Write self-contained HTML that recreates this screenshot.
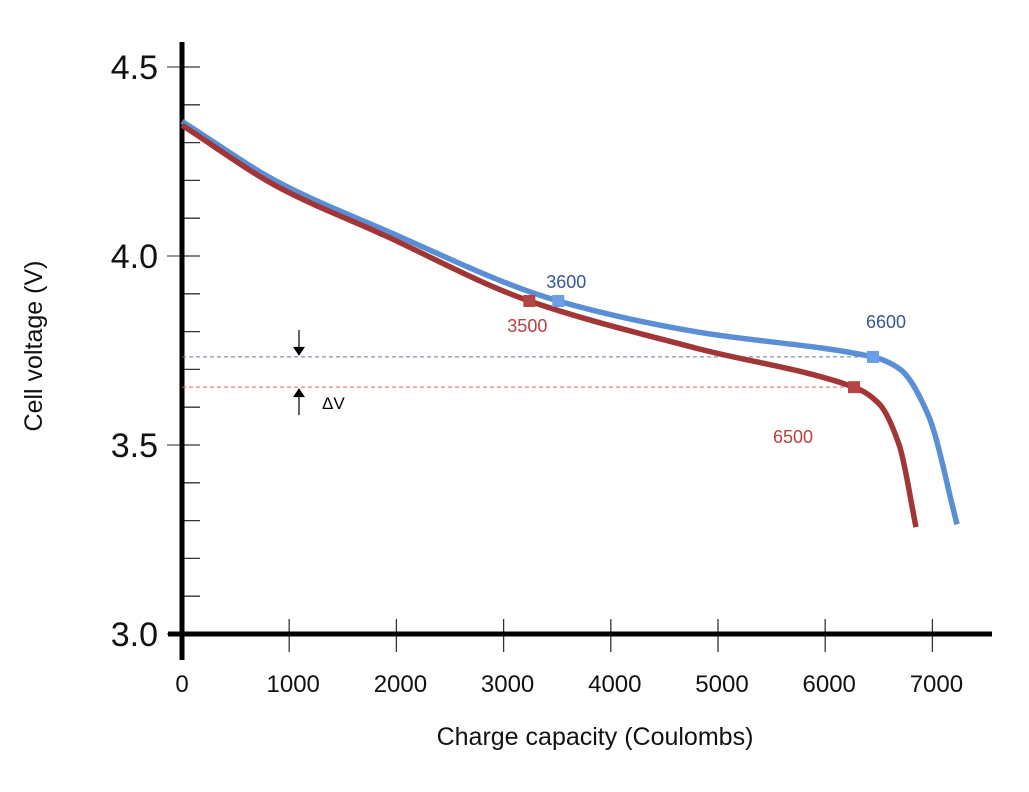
<!DOCTYPE html>
<html><head><meta charset="utf-8"><style>
body{margin:0;background:#fff;}
svg{display:block;font-family:"Liberation Sans",sans-serif;}
</style></head><body>
<svg id="c" width="1029" height="792"></svg>
<script>
const xTicks=[0,1000,2000,3000,4000,5000,6000,7000];
const yTicks=[3.0,3.5,4.0,4.5];
const blueCap=[0,914,1847,3510,4785,6446,6700,6960,7230];
const blueV=[4.356,4.193,4.074,3.881,3.80,3.733,3.70,3.58,3.29];
const redCap=[0,914,1847,3240,4785,6269,6500,6690,6847];
const redV=[4.346,4.18,4.06,3.881,3.757,3.653,3.61,3.50,3.283];
const blueMarkCap=[3510,6446];
const blueMarkV=[3.881,3.733];
const blueMarkLbl=["3600","6600"];
const redMarkCap=[3240,6269];
const redMarkV=[3.881,3.653];
const redMarkLbl=["3500","6500"];

const sx=c=>182+c*0.1072;
const sy=v=>634-(v-3)*378;
const NS="http://www.w3.org/2000/svg";
const svg=document.getElementById('c');
function mk(t,a,p){const e=document.createElementNS(NS,t);for(const k in a)e.setAttribute(k,a[k]);(p||svg).appendChild(e);return e;}
function smooth(xs,ys){
  const X=xs.map(sx),Y=ys.map(sy),n=X.length;
  const d=[],m=new Array(n);
  for(let i=0;i<n-1;i++)d.push((Y[i+1]-Y[i])/(X[i+1]-X[i]));
  m[0]=d[0];m[n-1]=d[n-2];
  for(let i=1;i<n-1;i++){m[i]=(d[i-1]*d[i]<=0)?0:(2/(1/d[i-1]+1/d[i]));}
  let s=`M${X[0]},${Y[0]}`;
  for(let i=0;i<n-1;i++){const h=(X[i+1]-X[i])/3;
    s+=` C${X[i]+h},${Y[i]+m[i]*h} ${X[i+1]-h},${Y[i+1]-m[i+1]*h} ${X[i+1]},${Y[i+1]}`;}
  return s;}

for(let v=3.1;v<4.5;v+=0.1){const t=mk('line',{x1:182,x2:200,y1:sy(v),y2:sy(v),stroke:'#333','stroke-width':1.3});
}
yTicks.forEach(v=>{const t=mk('line',{x1:167,x2:200,y1:sy(v),y2:sy(v),stroke:'#555','stroke-width':1.3});

const l=mk('text',{x:158,y:sy(v)+12,'text-anchor':'end','font-size':34,fill:'#111'});l.textContent=v.toFixed(1);
});
xTicks.forEach(c=>{if(c>0){const t=mk('line',{x1:sx(c),x2:sx(c),y1:619,y2:652,stroke:'#333','stroke-width':1.3});
}
const l=mk('text',{x:sx(c)+(c==0?0:4),y:692,'text-anchor':'middle','font-size':24,fill:'#111'});l.textContent=c;
});

let a=mk('line',{x1:182,x2:182,y1:42,y2:660,stroke:'#000','stroke-width':5});
a=mk('line',{x1:168,x2:992,y1:634,y2:634,stroke:'#000','stroke-width':5});

let dl=mk('line',{x1:182,x2:sx(blueMarkCap[1]),y1:sy(blueMarkV[1]),y2:sy(blueMarkV[1]),stroke:'#6b7a99','stroke-width':1,'stroke-dasharray':'4,3'});

dl=mk('line',{x1:182,x2:sx(redMarkCap[1]),y1:sy(redMarkV[1]),y2:sy(redMarkV[1]),stroke:'#e06060','stroke-width':1,'stroke-dasharray':'4,3'});


let p=mk('path',{d:smooth(blueCap,blueV),fill:'none',stroke:'#5a8fd6','stroke-width':5.5,'stroke-linecap':'butt'});

p=mk('path',{d:smooth(redCap,redV),fill:'none',stroke:'#a23535','stroke-width':5.5,'stroke-linecap':'butt'});


blueMarkCap.forEach((c,i)=>{const r=mk('rect',{x:sx(c)-6,y:sy(blueMarkV[i])-6,width:12,height:12,fill:'#6a9ee6'});

const t=mk('text',{x:i==0?sx(c)+8:sx(c)+13,y:i==0?sy(blueMarkV[i])-13:sy(blueMarkV[i])-29,'text-anchor':'middle','font-size':18,fill:'#34569a'});t.textContent=blueMarkLbl[i];
});
redMarkCap.forEach((c,i)=>{const r=mk('rect',{x:sx(c)-6,y:sy(redMarkV[i])-6,width:12,height:12,fill:'#b54545'});

const t=mk('text',{x:i==0?sx(c)-2:sx(c)-61,y:i==0?sy(redMarkV[i])+31:sy(redMarkV[i])+56,'text-anchor':'middle','font-size':18,fill:'#b84040'});t.textContent=redMarkLbl[i];
});

const yb=sy(blueMarkV[1]),yr=sy(redMarkV[1]);
let ar=mk('g',{});
mk('line',{x1:299,x2:299,y1:yb-27,y2:yb-8,stroke:'#000','stroke-width':1.2},ar);
mk('polygon',{points:`293,${yb-10} 305,${yb-10} 299,${yb-1}`,fill:'#000'},ar);
mk('line',{x1:299,x2:299,y1:yr+8,y2:yr+28,stroke:'#000','stroke-width':1.2},ar);
mk('polygon',{points:`293,${yr+10} 305,${yr+10} 299,${yr+1}`,fill:'#000'},ar);
let dv=mk('text',{x:322,y:yr+22,'font-size':17,fill:'#000'});dv.textContent='ΔV';


let xt=mk('text',{x:595,y:745,'text-anchor':'middle','font-size':25,fill:'#111'});xt.textContent='Charge capacity (Coulombs)';

let yt=mk('text',{x:0,y:0,'text-anchor':'middle','font-size':25,fill:'#111',transform:'translate(42,346) rotate(-90)'});yt.textContent='Cell voltage (V)';

</script>
</body></html>
